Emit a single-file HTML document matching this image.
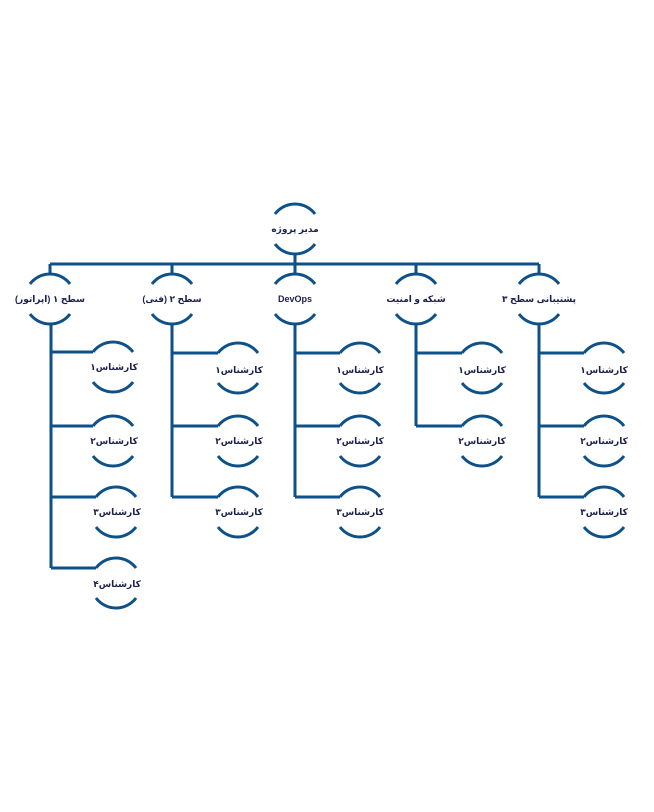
<!DOCTYPE html>
<html><head><meta charset="utf-8"><style>
html,body{margin:0;padding:0;background:#fff;}
svg{display:block}
text{font-family:"Liberation Sans","Noto Sans CJK SC","DejaVu Sans",sans-serif;font-weight:bold;font-size:9px;fill:#1b1f4d;text-anchor:middle;dominant-baseline:central}
</style></head><body>
<svg width="654" height="812" viewBox="0 0 654 812" xmlns="http://www.w3.org/2000/svg">
<g stroke="#0e5189" stroke-width="3" fill="none">
<path d="M50 264 H539"/>
<path d="M295 254 V264"/>
<path d="M50 264 V274 M172 264 V274 M295 264 V274 M416 264 V274 M539 264 V274"/>
<path d="M51 324 V568 M172 324 V497 M295 324 V497 M416 324 V426 M539 324 V497"/>
<path d="M51 352 H93 M51 426 H93 M51 497 H96 M51 568 H96"/>
<path d="M172 353 H218 M172 426 H218 M172 497 H218"/>
<path d="M295 353 H340 M295 426 H340 M295 497 H340"/>
<path d="M416 353 H462 M416 426 H462"/>
<path d="M539 353 H584 M539 426 H584 M539 497 H584"/>
</g>
<g stroke="#0e5189" stroke-width="3" fill="none">
<path d="M275 214 A25 25 0 0 1 315 214 M275 244 A25 25 0 0 0 315 244"/>
<path d="M30 284 A25 25 0 0 1 70 284 M30 314 A25 25 0 0 0 70 314"/>
<path d="M152 284 A25 25 0 0 1 192 284 M152 314 A25 25 0 0 0 192 314"/>
<path d="M275 284 A25 25 0 0 1 315 284 M275 314 A25 25 0 0 0 315 314"/>
<path d="M396 284 A25 25 0 0 1 436 284 M396 314 A25 25 0 0 0 436 314"/>
<path d="M519 284 A25 25 0 0 1 559 284 M519 314 A25 25 0 0 0 559 314"/>
<path d="M93 352 A25 25 0 0 1 133 352 M93 382 A25 25 0 0 0 133 382"/>
<path d="M93 426 A25 25 0 0 1 133 426 M93 456 A25 25 0 0 0 133 456"/>
<path d="M96 497 A25 25 0 0 1 136 497 M96 527 A25 25 0 0 0 136 527"/>
<path d="M96 568 A25 25 0 0 1 136 568 M96 598 A25 25 0 0 0 136 598"/>
<path d="M218 353 A25 25 0 0 1 258 353 M218 383 A25 25 0 0 0 258 383"/>
<path d="M218 426 A25 25 0 0 1 258 426 M218 456 A25 25 0 0 0 258 456"/>
<path d="M218 497 A25 25 0 0 1 258 497 M218 527 A25 25 0 0 0 258 527"/>
<path d="M340 353 A25 25 0 0 1 380 353 M340 383 A25 25 0 0 0 380 383"/>
<path d="M340 426 A25 25 0 0 1 380 426 M340 456 A25 25 0 0 0 380 456"/>
<path d="M340 497 A25 25 0 0 1 380 497 M340 527 A25 25 0 0 0 380 527"/>
<path d="M462 353 A25 25 0 0 1 502 353 M462 383 A25 25 0 0 0 502 383"/>
<path d="M462 426 A25 25 0 0 1 502 426 M462 456 A25 25 0 0 0 502 456"/>
<path d="M584 353 A25 25 0 0 1 624 353 M584 383 A25 25 0 0 0 624 383"/>
<path d="M584 426 A25 25 0 0 1 624 426 M584 456 A25 25 0 0 0 624 456"/>
<path d="M584 497 A25 25 0 0 1 624 497 M584 527 A25 25 0 0 0 624 527"/>
</g>
<text x="295" y="229" direction="rtl">مدیر پروژه</text>
<text x="50" y="299" direction="rtl">سطح ۱ (اپراتور)</text>
<text x="172" y="299" direction="rtl">سطح ۲ (فنی)</text>
<text x="295" y="299">DevOps</text>
<text x="416" y="299" direction="rtl">شبکه و امنیت</text>
<text x="539" y="299" direction="rtl">پشتیبانی سطح ۳</text>

<text x="114" y="367" direction="rtl">کارشناس۱</text>
<text x="114" y="441" direction="rtl">کارشناس۲</text>
<text x="117" y="512" direction="rtl">کارشناس۳</text>
<text x="117" y="584" direction="rtl">کارشناس۴</text>

<text x="239" y="370" direction="rtl">کارشناس۱</text>
<text x="239" y="441" direction="rtl">کارشناس۲</text>
<text x="239" y="512" direction="rtl">کارشناس۳</text>

<text x="360" y="370" direction="rtl">کارشناس۱</text>
<text x="360" y="441" direction="rtl">کارشناس۲</text>
<text x="360" y="512" direction="rtl">کارشناس۳</text>

<text x="482" y="370" direction="rtl">کارشناس۱</text>
<text x="482" y="441" direction="rtl">کارشناس۲</text>

<text x="604" y="370" direction="rtl">کارشناس۱</text>
<text x="604" y="441" direction="rtl">کارشناس۲</text>
<text x="604" y="512" direction="rtl">کارشناس۳</text>
</svg>
</body></html>
